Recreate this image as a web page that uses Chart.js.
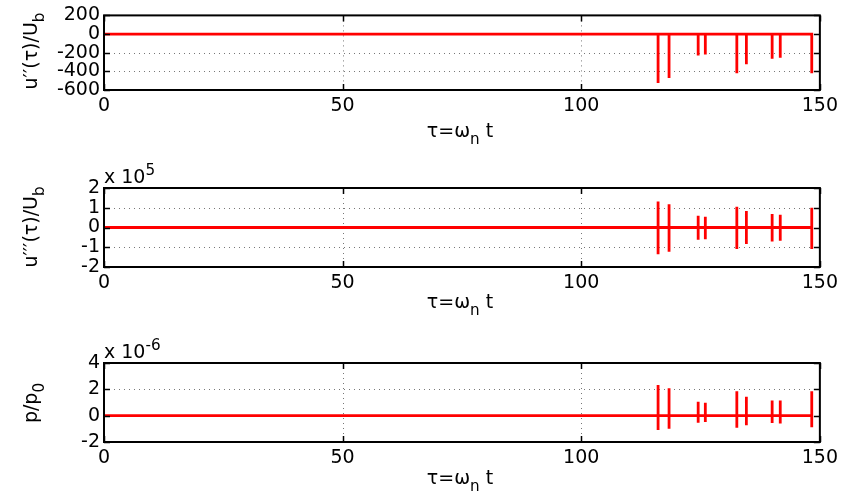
<!DOCTYPE html>
<html>
<head>
<meta charset="utf-8">
<script src="https://cdn.jsdelivr.net/npm/chart.js@4.4.1/dist/chart.umd.min.js"></script>
<style>
  html, body { margin: 0; padding: 0; background: #fff; }
  #wrap { position: relative; width: 843px; height: 501px; font-family: 'DejaVu Sans', sans-serif; color: #000; }
  .panel { position: absolute; left: 0; width: 843px; }
  .lbl { position: absolute; font-size: 19px; white-space: nowrap; line-height: 1; }
  .ylbl { transform: translate(-50%, -50%) rotate(-90deg); }
  .xlbl { transform: translateX(-50%); }
  .sub { position: relative; top: 0.45em; font-size: 0.8em; }
  .sup { position: relative; top: -0.5em; font-size: 0.8em; }
</style>
</head>
<body>
<div id="wrap">
  <div class="panel" style="top:0px;height:120px"><canvas id="c1"></canvas></div>
  <div class="panel" style="top:170px;height:127px"><canvas id="c2"></canvas></div>
  <div class="panel" style="top:345px;height:127px"><canvas id="c3"></canvas></div>

  <div class="lbl ylbl" style="left:31px;top:51px">u′′(τ)/U<span class="sub">b</span></div>
  <div class="lbl ylbl" style="left:31px;top:227px">u′′′(τ)/U<span class="sub">b</span></div>
  <div class="lbl ylbl" style="left:31px;top:403px">p/p<span class="sub">0</span></div>

  <div class="lbl xlbl" style="left:460px;top:121px">τ=ω<span class="sub">n</span> t</div>
  <div class="lbl xlbl" style="left:460px;top:292px">τ=ω<span class="sub">n</span> t</div>
  <div class="lbl xlbl" style="left:460px;top:468px">τ=ω<span class="sub">n</span> t</div>

  <div class="lbl" style="left:104px;top:167px">x 10<span class="sup">5</span></div>
  <div class="lbl" style="left:104px;top:342px">x 10<span class="sup">-6</span></div>
</div>

<script>
// 横軸 (τ) の目盛り
const xTicks = [0, 50, 100, 150];

// スパイクの発生時刻 τ
const spikeTimes = [116.1, 118.4, 124.5, 126.0, 132.6, 134.6, 140.0, 141.7, 148.3];

// 上段: u''(τ)/U_b  (下向きスパイク)
const accelTicks = [200, 0, -200, -400, -600];
const accelLow = [-525, -470, -230, -220, -420, -325, -265, -255, -420];

// 中段: u'''(τ)/U_b  (x 10^5)
const jerkTicks = [2, 1, 0, -1, -2];
const jerkHigh = [1.32, 1.18, 0.59, 0.54, 1.05, 0.83, 0.68, 0.64, 1.0];
const jerkLow = [-1.35, -1.23, -0.62, -0.59, -1.09, -0.84, -0.71, -0.67, -1.09];

// 下段: p/p_0  (x 10^-6)
const presTicks = [4, 2, 0, -2];
const presHigh = [2.33, 2.08, 1.06, 0.99, 1.86, 1.43, 1.16, 1.16, 1.86];
const presLow = [-1.09, -0.99, -0.53, -0.48, -0.91, -0.73, -0.56, -0.60, -0.88];

const RED = '#ff0000';
const TICK_FONT = { family: "'DejaVu Sans', sans-serif", size: 19 };

// 基線 0 から各スパイクへ上下に振れる折れ線の点列を作る
function buildPoints(highs, lows) {
    const pts = [{ x: 0, y: 0 }];
    spikeTimes.forEach((t, i) => {
        pts.push({ x: t, y: 0 });
        if (highs) pts.push({ x: t, y: highs[i] });
        pts.push({ x: t, y: lows[i] });
        pts.push({ x: t, y: 0 });
    });
    return pts;
}

// MATLAB風の枠・内向き目盛り・点線グリッド
const matlabAxes = {
    id: 'matlabAxes',
    beforeDatasetsDraw(chart) {
        const { ctx, chartArea: a, scales: { x, y } } = chart;
        ctx.save();
        ctx.strokeStyle = '#777';
        ctx.lineWidth = 1;
        ctx.setLineDash([1, 4]);
        ctx.beginPath();
        x.ticks.forEach(t => {
            const px = Math.round(x.getPixelForValue(t.value)) + 0.5;
            if (px > a.left + 2 && px < a.right - 2) {
                ctx.moveTo(px, a.top);
                ctx.lineTo(px, a.bottom);
            }
        });
        y.ticks.forEach(t => {
            const py = Math.round(y.getPixelForValue(t.value)) + 0.5;
            if (py > a.top + 2 && py < a.bottom - 2) {
                ctx.moveTo(a.left, py);
                ctx.lineTo(a.right, py);
            }
        });
        ctx.stroke();
        ctx.restore();
    },
    afterDatasetsDraw(chart) {
        const { ctx, chartArea: a, scales: { x, y } } = chart;
        const len = 6;
        ctx.save();
        ctx.strokeStyle = '#000';
        ctx.lineWidth = 1.5;
        ctx.beginPath();
        x.ticks.forEach(t => {
            const px = Math.round(x.getPixelForValue(t.value)) + 0.5;
            ctx.moveTo(px, a.bottom); ctx.lineTo(px, a.bottom - len);
            ctx.moveTo(px, a.top); ctx.lineTo(px, a.top + len);
        });
        y.ticks.forEach(t => {
            const py = Math.round(y.getPixelForValue(t.value)) + 0.5;
            ctx.moveTo(a.left, py); ctx.lineTo(a.left + len, py);
            ctx.moveTo(a.right, py); ctx.lineTo(a.right - len, py);
        });
        ctx.stroke();
        ctx.lineWidth = 2;
        ctx.strokeRect(a.left, a.top, a.right - a.left, a.bottom - a.top);
        ctx.restore();
    }
};

function makePanel(id, yTicks, highs, lows, padTop) {
    const ctx = document.getElementById(id).getContext('2d');
    return new Chart(ctx, {
        type: 'scatter',
        data: {
            datasets: [{
                data: buildPoints(highs, lows),
                showLine: true,
                borderColor: RED,
                borderWidth: 2.8,
                pointRadius: 0,
                tension: 0,
                borderCapStyle: 'butt'
            }]
        },
        options: {
            responsive: true,
            maintainAspectRatio: false,
            animation: false,
            events: [],
            layout: { padding: { top: padTop, right: 23, left: 0, bottom: 0 } },
            plugins: { legend: { display: false }, tooltip: { enabled: false } },
            scales: {
                x: {
                    type: 'linear',
                    min: xTicks[0],
                    max: xTicks[xTicks.length - 1],
                    afterBuildTicks: s => { s.ticks = xTicks.map(v => ({ value: v })); },
                    afterFit: s => { s.height = 30; },
                    grid: { display: false, drawTicks: false },
                    border: { display: false },
                    ticks: { font: TICK_FONT, color: '#000', padding: 5, maxRotation: 0, autoSkip: false }
                },
                y: {
                    min: Math.min(...yTicks),
                    max: Math.max(...yTicks),
                    afterBuildTicks: s => { s.ticks = yTicks.map(v => ({ value: v })); },
                    afterFit: s => { s.width = 104; },
                    grid: { display: false, drawTicks: false },
                    border: { display: false },
                    ticks: { font: TICK_FONT, color: '#000', padding: 4, autoSkip: false }
                }
            }
        },
        plugins: [matlabAxes]
    });
}

makePanel('c1', accelTicks, null, accelLow, 12);
makePanel('c2', jerkTicks, jerkHigh, jerkLow, 18);
makePanel('c3', presTicks, presHigh, presLow, 18);
</script>
</body>
</html>
